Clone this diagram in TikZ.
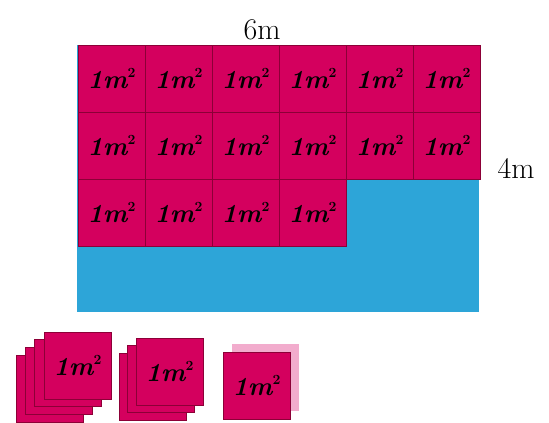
\documentclass[tikz,border=0pt]{standalone}
\definecolor{tilemag}{RGB}{212,0,94}
\definecolor{tileedge}{RGB}{140,0,55}
\definecolor{skyblue}{RGB}{45,165,216}
\definecolor{palepink}{RGB}{242,172,205}
\tikzset{
  tile/.style={draw=tileedge, line width=0.6pt, fill=tilemag, minimum width=67pt, minimum height=67pt, inner sep=0pt, outer sep=0pt, font=\fontsize{26}{26}\selectfont\bfseries\itshape},
  backtile/.style={draw=tileedge, line width=0.6pt, fill=tilemag, minimum width=67pt, minimum height=67pt, inner sep=0pt, outer sep=0pt},
  label/.style={font=\fontsize{30}{30}\selectfont, inner sep=0pt}
}
\newcommand{\sqm}{1m\raisebox{0.45em}{\fontsize{14}{14}\selectfont\bfseries\upshape 2}}
\begin{document}
\begin{tikzpicture}[x=1pt,y=-1pt]
\useasboundingbox (0,0) rectangle (549,423);
% blue field
\fill[skyblue] (77,45) rectangle (479,312);
% tiles
\foreach \j/\n in {0/6,1/6,2/4}{
  \foreach \i in {1,...,\n}{
    \node[tile] (t\j\i) at ({111.5+67*(\i-1)},{78.5+67*\j}) {\sqm};
  }
}
% dimension labels
\node[label] (w) at (262,30) {6m};
\node[label] (h) at (516,168) {4m};
% stack 1 (4 squares)
\foreach \k in {3,2,1}{
  \node[backtile] (sa\k) at ({77.5-9.3*\k},{365.5+7.7*\k}) {};
}
\node[tile] (sa0) at (77.5,365.5) {\sqm};
% stack 2 (3 squares)
\foreach \k in {2,1}{
  \node[backtile] (sb\k) at ({169.5-8.5*\k},{371.5+7.5*\k}) {};
}
\node[tile] (sb0) at (169.5,371.5) {\sqm};
% stack 3
\node[backtile, draw=none, fill=palepink] (sc1) at (265,377.5) {};
\node[tile] (sc0) at (256.5,385.5) {\sqm};
\end{tikzpicture}
\end{document}
